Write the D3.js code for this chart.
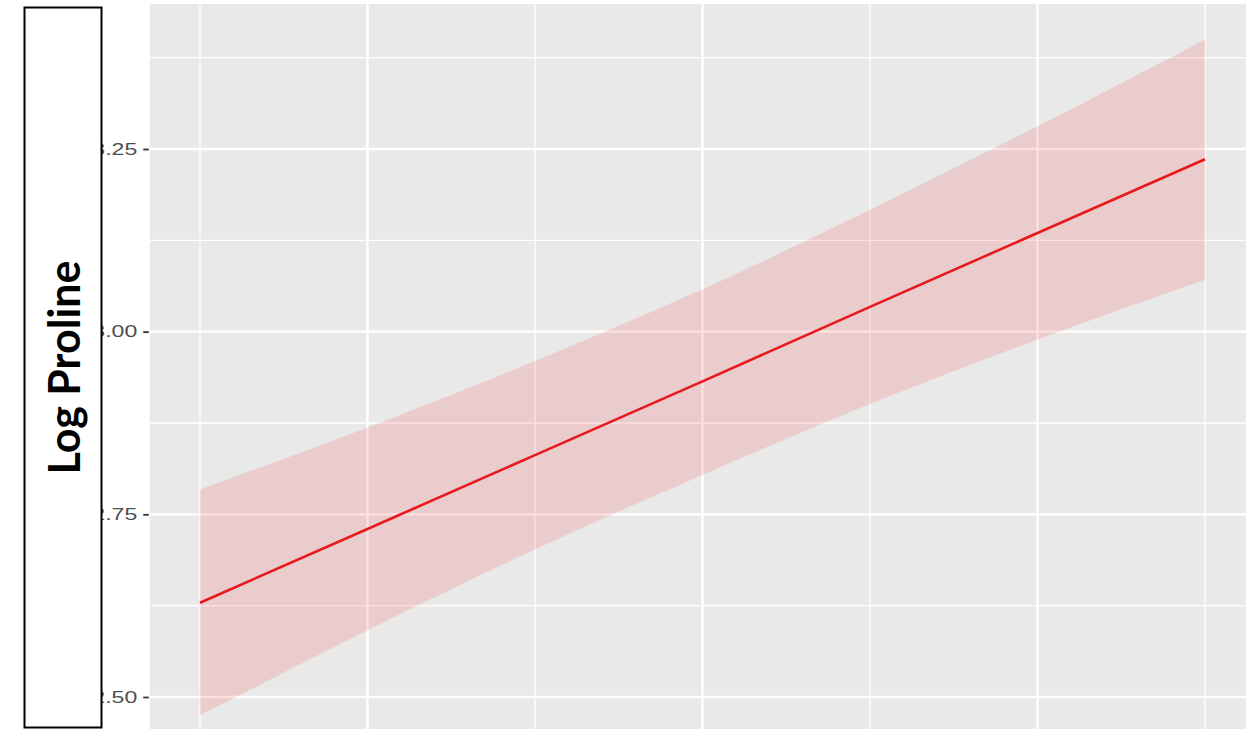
<!DOCTYPE html>
<html>
<head>
<meta charset="utf-8">
<script src="https://cdn.jsdelivr.net/npm/d3@7"></script>
<style>
  html, body { margin: 0; padding: 0; background: #fff; }
  svg { display: block; }
</style>
</head>
<body>
<svg id="chart" width="1246" height="729"></svg>
<script>
// Fitted log10(proline) trend with its confidence band
const xs      = [1, 2, 3, 4, 5, 6, 7];
const fitted  = [2.629, 2.730, 2.831, 2.932, 3.034, 3.135, 3.236];
const upper   = [2.784, 2.869, 2.960, 3.058, 3.167, 3.281, 3.400];
const lower   = [2.475, 2.591, 2.702, 2.804, 2.901, 2.989, 3.071];

const yTicks      = [2.50, 2.75, 3.00, 3.25];
const yTickLabels = ["2.50", "2.75", "3.00", "3.25"];
const yMinor      = [2.625, 2.875, 3.125, 3.375];
const xMajor      = [2, 4, 6];
const xMinor      = [1, 3, 5, 7];
const yTitle      = "Log Proline";

const svg = d3.select("#chart");

const panel = { left: 149.75, right: 1255.25, top: 4, bottom: 760 };

const x = d3.scaleLinear().domain([0.7, 7.3]).range([panel.left, panel.right]);
const y = d3.scaleLinear().domain([2.5, 3.25]).range([697, 149]);

svg.append("defs").append("clipPath").attr("id", "panelClip")
  .append("rect")
  .attr("x", panel.left).attr("y", panel.top)
  .attr("width", panel.right - panel.left).attr("height", panel.bottom - panel.top);

// panel background
svg.append("rect")
  .attr("x", panel.left).attr("y", panel.top)
  .attr("width", panel.right - panel.left).attr("height", panel.bottom - panel.top)
  .attr("fill", "#E9E9E9");

const grid = svg.append("g").attr("clip-path", "url(#panelClip)");

// minor grid
grid.selectAll("line.ymin").data(yMinor).join("line")
  .attr("x1", panel.left).attr("x2", panel.right)
  .attr("y1", d => y(d)).attr("y2", d => y(d))
  .attr("stroke", "#fff").attr("stroke-width", 1.3);
grid.selectAll("line.xmin").data(xMinor).join("line")
  .attr("y1", panel.top).attr("y2", panel.bottom)
  .attr("x1", d => x(d)).attr("x2", d => x(d))
  .attr("stroke", "#fff").attr("stroke-width", 1.3);

// major grid
grid.selectAll("line.ymaj").data(yTicks).join("line")
  .attr("x1", panel.left).attr("x2", panel.right)
  .attr("y1", d => y(d)).attr("y2", d => y(d))
  .attr("stroke", "#fff").attr("stroke-width", 2.4);
grid.selectAll("line.xmaj").data(xMajor).join("line")
  .attr("y1", panel.top).attr("y2", panel.bottom)
  .attr("x1", d => x(d)).attr("x2", d => x(d))
  .attr("stroke", "#fff").attr("stroke-width", 2.4);

const band = xs.map((v, i) => ({ x: v, lo: lower[i], hi: upper[i], fit: fitted[i] }));

// confidence ribbon
grid.append("path")
  .datum(band)
  .attr("d", d3.area()
    .x(d => x(d.x))
    .y0(d => y(d.lo))
    .y1(d => y(d.hi))
    .curve(d3.curveMonotoneX))
  .attr("fill", "rgb(255,0,0)")
  .attr("fill-opacity", 0.12);

// fitted line
grid.append("path")
  .datum(band)
  .attr("d", d3.line().x(d => x(d.x)).y(d => y(d.fit)))
  .attr("fill", "none")
  .attr("stroke", "#E8191C")
  .attr("stroke-width", 2.6);

// y axis
const yAxis = d3.axisLeft(y)
  .tickValues(yTicks)
  .tickFormat((d, i) => yTickLabels[i])
  .tickSize(5.5)
  .tickPadding(5);

const ga = svg.append("g")
  .attr("transform", `translate(${panel.left - 1},0)`)
  .call(yAxis);
ga.select(".domain").remove();
ga.selectAll(".tick line").attr("stroke", "#333").attr("stroke-width", 1.8);
ga.selectAll(".tick text")
  .attr("x", 0)
  .attr("transform", "translate(-11.5,0) scale(1.4,1)")
  .attr("fill", "#4D4D4D")
  .style("font-family", "'Liberation Sans', Arial, sans-serif")
  .style("font-size", "16.5px");

// title box
svg.append("rect")
  .attr("x", 24.5).attr("y", 7.5)
  .attr("width", 77).attr("height", 720)
  .attr("fill", "#fff")
  .attr("stroke", "#000")
  .attr("stroke-width", 2);

const title = svg.append("text")
  .attr("transform", "translate(80,367.5) rotate(-90)")
  .attr("text-anchor", "middle")
  .style("font-family", "Lato, 'Open Sans', sans-serif")
  .style("font-weight", "bold")
  .style("font-size", "40px")
  .attr("fill", "#000")
  .text(yTitle);

// size title so it spans the same length along the box
const len = title.node().getComputedTextLength();
title.style("font-size", (40 * 214 / len).toFixed(2) + "px");
</script>
</body>
</html>
